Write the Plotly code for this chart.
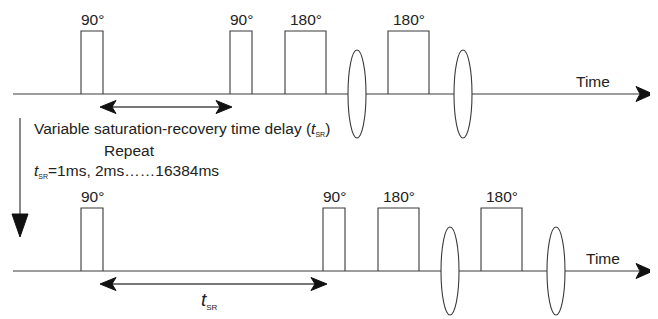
import plotly.graph_objects as go

# ---- data (schematic time axis, arbitrary units) ----
row_names = ["standard", "repeat"]
pulse_labels = ["90°", "90°", "180°", "180°"]
pulse_start_top = [81, 230, 285, 388]
pulse_end_top = [103, 252, 326, 429]
pulse_start_bot = [81, 323, 378, 481]
pulse_end_bot = [103, 345, 419, 522]
gradient_center_top = [357, 463]
gradient_center_bot = [450, 556]
delay_arrow_top = [100, 232]
delay_arrow_bot = [100, 327]
time_axis = [13, 653]
SUB = "<sub><span style='font-size:7px'>SR</span></sub>"
caption_lines = [
    "Variable saturation-recovery time delay (<i>t</i>" + SUB + ")",
    "Repeat",
    "<i>t</i>" + SUB + "=1ms, 2ms……16384ms",
]

W, H = 658, 319
OFF = 8  # page body margin
row_base = [94, 271]
row_top = [31, 208]
LINE = "#3a3a3a"
TXT = "#222222"
FONT = "Liberation Sans, Arial, sans-serif"
FS = 15.5

shapes = []
ann = []


def tri(pts, color="#111111"):
    d = "M " + " L ".join(f"{x},{y}" for x, y in pts) + " Z"
    shapes.append(dict(type="path", path=d, fillcolor=color, line=dict(color=color, width=1)))


def row(base, top, starts, ends, grads, arrow, time_label_x, time_label_y, label_y, tsr_label):
    shapes.append(dict(type="line", x0=time_axis[0], x1=time_axis[1] - 14, y0=base, y1=base,
                       line=dict(color=LINE, width=1.2)))
    tri([(time_axis[1] - 17, base - 7.5), (time_axis[1], base), (time_axis[1] - 17, base + 7.5),
         (time_axis[1] - 13, base)])
    for s, e, lab in zip(starts, ends, pulse_labels):
        shapes.append(dict(type="path", path=f"M {s},{base} L {s},{top} L {e},{top} L {e},{base}",
                           line=dict(color=LINE, width=1.1)))
        ann.append(dict(x=(s + e) / 2, y=label_y, text=lab, showarrow=False,
                        font=dict(size=FS, color=TXT, family=FONT), xanchor="center", yanchor="middle"))
    for c in grads:
        shapes.append(dict(type="circle", x0=c - 9, x1=c + 9, y0=base - 44, y1=base + 44,
                           fillcolor="white", line=dict(color=LINE, width=1.1), layer="above"))
    ay = base + 13
    a0, a1 = arrow
    shapes.append(dict(type="line", x0=a0 + 12, x1=a1 - 12, y0=ay, y1=ay,
                       line=dict(color="#777777", width=2)))
    tri([(a0, ay), (a0 + 16, ay - 6.5), (a0 + 12, ay), (a0 + 16, ay + 6.5)])
    tri([(a1, ay), (a1 - 16, ay - 6.5), (a1 - 12, ay), (a1 - 16, ay + 6.5)])
    ann.append(dict(x=time_label_x, y=time_label_y, text="Time", showarrow=False,
                    font=dict(size=FS, color=TXT, family=FONT), xanchor="center", yanchor="middle"))
    if tsr_label:
        ann.append(dict(x=(a0 + a1) / 2 - 4, y=ay + 16,
                        text="<i>t</i><sub><span style='font-size:8px'>SR</span></sub>", showarrow=False,
                        font=dict(size=19, color=TXT, family=FONT), xanchor="center", yanchor="middle"))


row(row_base[0], row_top[0], pulse_start_top, pulse_end_top, gradient_center_top, delay_arrow_top,
    593, 81, 19, False)
row(row_base[1], row_top[1], pulse_start_bot, pulse_end_bot, gradient_center_bot, delay_arrow_bot,
    603, 258, 196, True)

# vertical repeat arrow
shapes.append(dict(type="line", x0=20, x1=20, y0=118, y1=218, line=dict(color=LINE, width=1.2)))
tri([(12, 214), (28, 214), (20, 237)])

# captions
ann.append(dict(x=32, y=129, text=caption_lines[0], showarrow=False, xanchor="left", yanchor="middle",
                font=dict(size=FS, color=TXT, family=FONT)))
ann.append(dict(x=129, y=150, text=caption_lines[1], showarrow=False, xanchor="center", yanchor="middle",
                font=dict(size=FS, color=TXT, family=FONT)))
ann.append(dict(x=32, y=171, text=caption_lines[2], showarrow=False, xanchor="left", yanchor="middle",
                font=dict(size=FS, color=TXT, family=FONT)))

fig = go.Figure()
fig.add_trace(go.Scatter(x=[OFF, W], y=[OFF, H], mode="markers", marker=dict(opacity=0), hoverinfo="skip",
                         showlegend=False))
fig.update_layout(
    width=W - OFF, height=H - OFF, margin=dict(l=0, r=0, t=0, b=0),
    paper_bgcolor="white", plot_bgcolor="white",
    xaxis=dict(range=[OFF, W], visible=False, fixedrange=True),
    yaxis=dict(range=[H, OFF], visible=False, fixedrange=True),
    shapes=shapes, annotations=ann, showlegend=False,
)
fig.write_html("out.html")
